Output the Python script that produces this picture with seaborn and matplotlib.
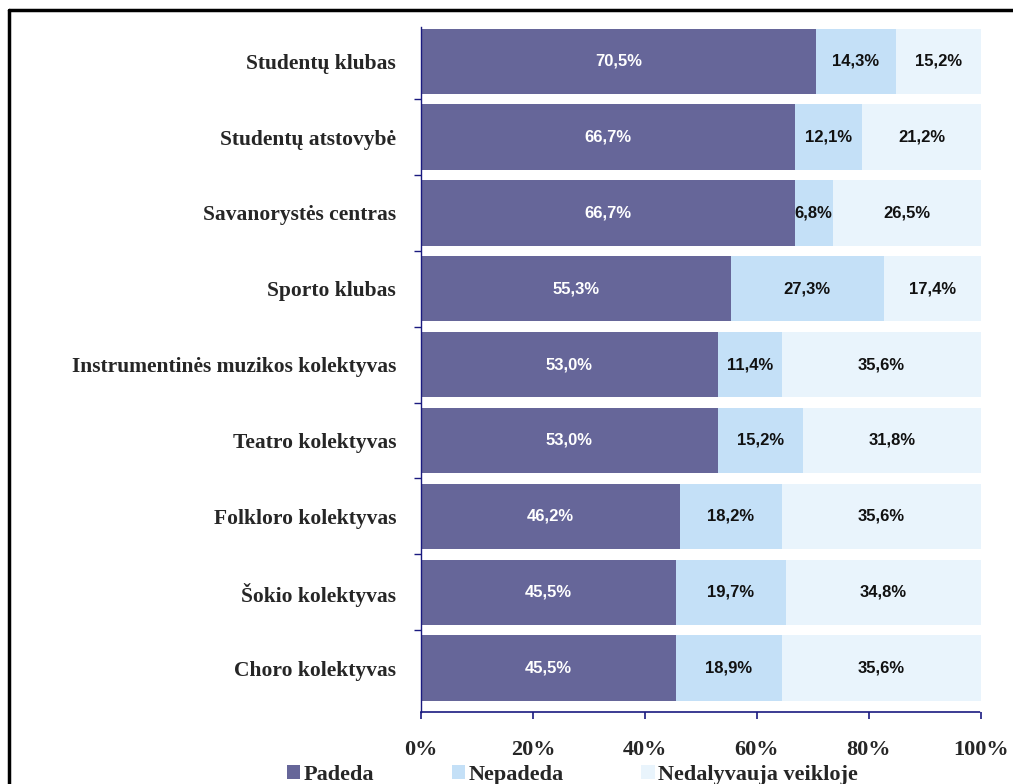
import numpy as np
import pandas as pd
import seaborn as sns
import matplotlib.pyplot as plt
from matplotlib.lines import Line2D
from matplotlib.patches import Patch
from matplotlib.ticker import FixedLocator

# data (percent)
categories = ['Studentų klubas', 'Studentų atstovybė', 'Savanorystės centras',
              'Sporto klubas', 'Instrumentinės muzikos kolektyvas',
              'Teatro kolektyvas', 'Folkloro kolektyvas', 'Šokio kolektyvas',
              'Choro kolektyvas']
padeda = [70.5, 66.7, 66.7, 55.3, 53.0, 53.0, 46.2, 45.5, 45.5]
nepadeda = [14.3, 12.1, 6.8, 27.3, 11.4, 15.2, 18.2, 19.7, 18.9]
nedalyvauja = [15.2, 21.2, 26.5, 17.4, 35.6, 31.8, 35.6, 34.8, 35.6]
series_names = ['Padeda', 'Nepadeda', 'Nedalyvauja veikloje']
x_ticks = [0, 20, 40, 60, 80, 100]

colors = ['#666699', '#c4e0f7', '#e9f4fc']
serif = 'Liberation Serif'

df = pd.DataFrame({'cat': categories, 'p': padeda, 'n': nepadeda, 'd': nedalyvauja})
df['c1'] = df['p']
df['c2'] = df['p'] + df['n']
df['c3'] = df['c2'] + df['d']

sns.set_style('white')
fig = plt.figure(figsize=(10.13, 7.84), dpi=100)
ax = fig.add_axes([0.4156, 0.0918, 0.5528, 0.8737])

# stacked bars drawn back to front
for col, c in zip(['c3', 'c2', 'c1'], colors[::-1]):
    sns.barplot(data=df, x=col, y='cat', orient='h', color=c, width=0.86,
                saturation=1, ax=ax, linewidth=0)

ax.set_xlim(0, 100)
ax.set_ylim(8.58, -0.45)

# value labels
for i in range(len(categories)):
    segs = [(0, padeda[i]), (padeda[i], nepadeda[i]), (padeda[i] + nepadeda[i], nedalyvauja[i])]
    for k, (start, w) in enumerate(segs):
        ax.text(start + w / 2, i, f'{w:.1f}%'.replace('.', ','), ha='center', va='center',
                fontsize=12, family='Liberation Sans', fontweight='bold',
                color='white' if k == 0 else '#111111')

ax.set_xlabel('')
ax.set_ylabel('')
ax.set_xticks(x_ticks)
ax.set_xticklabels([f'{t}%' for t in x_ticks], family=serif, fontweight='bold', fontsize=16)
ax.set_yticks(range(len(categories)))
ax.set_yticklabels(categories, family=serif, fontweight='bold', fontsize=15.5)
ax.yaxis.set_minor_locator(FixedLocator(np.arange(0.5, len(categories) - 0.5, 1)))
ax.tick_params(axis='x', which='major', length=5, width=1.2, color='#1a1a80', pad=15, direction='out', bottom=True)
ax.tick_params(axis='y', which='major', length=0, pad=18)
ax.tick_params(axis='y', which='minor', length=5, width=1, color='#1a1a80', direction='out', left=True)

for s in ['top', 'right']:
    ax.spines[s].set_visible(False)
ax.spines['left'].set_color('#1a1a80')
ax.spines['bottom'].set_color('#1a1a80')
ax.spines['left'].set_linestyle((0, (2, 1)))
ax.spines['bottom'].set_linestyle((0, (2, 1)))
ax.spines['left'].set_linewidth(1)
ax.spines['bottom'].set_linewidth(1.2)

handles = [Patch(facecolor=c, edgecolor='none') for c in colors]
fig.legend(handles, series_names, loc='center', bbox_to_anchor=(0.565, 0.012), ncol=3,
           frameon=False, prop={'family': serif, 'weight': 'bold', 'size': 16},
           handlelength=0.6, handleheight=0.6, handletextpad=0.15, columnspacing=3.5)

# outer frame of the original chart
fig.add_artist(Line2D([0.009, 1.0], [1 - 10 / 784, 1 - 10 / 784], color='black', lw=2.5,
                      transform=fig.transFigure))
fig.add_artist(Line2D([0.009, 0.009], [0, 1 - 10 / 784], color='black', lw=2.5,
                      transform=fig.transFigure))

fig.savefig('out.png', dpi=100)
